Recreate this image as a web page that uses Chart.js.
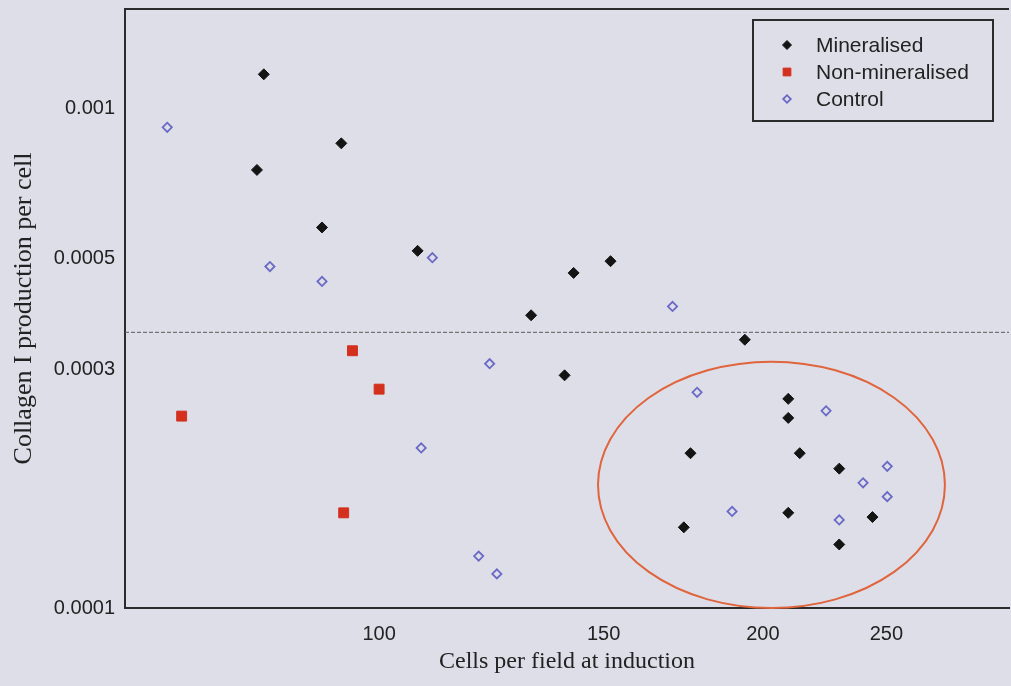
<!DOCTYPE html>
<html>
<head>
<meta charset="utf-8">
<script src="https://cdn.jsdelivr.net/npm/chart.js@4"></script>
<style>
    body { margin: 0; background: #dedee8; }
    #collagenChart { display: block; background: #dedee8; }
</style>
</head>
<body>
<canvas id="collagenChart" width="1011" height="686"></canvas>
<script>
// Mineralised
const mineralisedX = [81.2, 93.4, 80.2, 90.2, 107.2, 142.1, 151.9, 131.6, 139.8, 193.6,
    209.4, 209.4, 175.5, 213.8, 229.6, 209.4, 173.4, 243.8, 229.6];
const mineralisedY = [0.001168, 0.000850, 0.000752, 0.000577, 0.000518, 0.000468, 0.000494, 0.000385, 0.000292, 0.000344,
    0.000262, 0.000240, 0.000204, 0.000204, 0.000190, 0.000155, 0.000145, 0.000152, 0.000134];

// Non-mineralised
const nonMineralisedX = [70.0, 95.3, 100.0, 93.8];
const nonMineralisedY = [0.000242, 0.000327, 0.000274, 0.000155];

// Control
const controlX = [68.2, 82.1, 90.2, 110.1, 122.1, 169.9, 177.6, 107.9, 119.7, 123.7,
    224.2, 189.2, 239.7, 250.4, 250.4, 229.6];
const controlY = [0.000915, 0.000482, 0.000450, 0.000502, 0.000308, 0.000401, 0.000270, 0.000209, 0.000127, 0.000117,
    0.000248, 0.000156, 0.000178, 0.000192, 0.000167, 0.000150];

// threshold (dashed line) and circled group
const thresholdY = 0.000356;
const circleX = [148.5, 277.9];
const circleY = [0.0001, 0.000311];

const xTicks = [100, 150, 200, 250];
const yTicks = [0.0001, 0.0003, 0.0005, 0.001];
const xRange = [63.19, 312];
const yRange = [0.0001, 0.001578];

const toPoints = (xs, ys) => xs.map((x, i) => ({ x: x, y: ys[i] }));

// red ellipse round the high-density group
const ellipsePlugin = {
    id: 'groupEllipse',
    beforeDatasetsDraw(chart) {
        const { ctx, scales } = chart;
        const x0 = scales.x.getPixelForValue(circleX[0]);
        const x1 = scales.x.getPixelForValue(circleX[1]);
        const y0 = scales.y.getPixelForValue(circleY[0]);
        const y1 = scales.y.getPixelForValue(circleY[1]);
        ctx.save();
        ctx.beginPath();
        ctx.ellipse((x0 + x1) / 2, (y0 + y1) / 2, Math.abs(x1 - x0) / 2, Math.abs(y0 - y1) / 2, 0, 0, Math.PI * 2);
        ctx.strokeStyle = '#e0643c';
        ctx.lineWidth = 2;
        ctx.stroke();
        ctx.restore();
    }
};

// top frame line + boxed legend inside the plot
const framePlugin = {
    id: 'frameLegend',
    afterDraw(chart) {
        const { ctx, chartArea } = chart;
        ctx.save();
        ctx.strokeStyle = '#2b2b2b';
        ctx.lineWidth = 2;
        ctx.beginPath();
        ctx.moveTo(chartArea.left, chartArea.top);
        ctx.lineTo(chartArea.right, chartArea.top);
        ctx.stroke();

        const bx = chartArea.right - 256, by = chartArea.top + 11, bw = 240, bh = 101;
        ctx.strokeRect(bx, by, bw, bh);

        const rows = chart.data.datasets.filter(d => d.inLegend);
        rows.forEach((ds, i) => {
            const cy = by + 25 + i * 27;
            ctx.fillStyle = ds.backgroundColor;
            ctx.strokeStyle = ds.borderColor;
            ctx.lineWidth = ds.borderWidth;
            Chart.helpers.drawPoint(ctx, {
                pointStyle: ds.pointStyle,
                radius: ds.legendRadius,
                rotation: 0,
                borderWidth: ds.borderWidth
            }, bx + 34, cy);
            ctx.fillStyle = '#222';
            ctx.font = '21px "Liberation Sans", Arial, sans-serif';
            ctx.textBaseline = 'middle';
            ctx.textAlign = 'left';
            ctx.fillText(ds.label, bx + 63, cy + 1);
        });
        ctx.restore();
    }
};

const ctx = document.getElementById('collagenChart').getContext('2d');
const collagenChart = new Chart(ctx, {
    type: 'scatter',
    data: {
        datasets: [
            {
                label: 'Threshold',
                type: 'line',
                data: [{ x: xRange[0], y: thresholdY }, { x: xRange[1], y: thresholdY }],
                borderColor: '#5a5a5a',
                borderWidth: 1,
                borderDash: [4, 2],
                pointRadius: 0,
                fill: false
            },
            {
                label: 'Mineralised',
                inLegend: true,
                data: toPoints(mineralisedX, mineralisedY),
                pointStyle: 'rectRot',
                pointRadius: 5.5,
                legendRadius: 4.5,
                backgroundColor: '#141414',
                borderColor: '#141414',
                borderWidth: 1
            },
            {
                label: 'Non-mineralised',
                inLegend: true,
                data: toPoints(nonMineralisedX, nonMineralisedY),
                pointStyle: 'rect',
                pointRadius: 7,
                legendRadius: 5.5,
                backgroundColor: '#d4301e',
                borderColor: '#d4301e',
                borderWidth: 1
            },
            {
                label: 'Control',
                inLegend: true,
                data: toPoints(controlX, controlY),
                pointStyle: 'rectRot',
                pointRadius: 4.6,
                legendRadius: 3.8,
                backgroundColor: 'rgba(0,0,0,0)',
                borderColor: '#6a6ac6',
                borderWidth: 1.8
            }
        ]
    },
    options: {
        responsive: false,
        animation: false,
        layout: { autoPadding: false, padding: { top: 9, right: 2, left: 0, bottom: 0 } },
        plugins: {
            legend: { display: false },
            tooltip: { enabled: false }
        },
        scales: {
            x: {
                type: 'logarithmic',
                min: xRange[0],
                max: xRange[1],
                afterBuildTicks: scale => { scale.ticks = xTicks.map(v => ({ value: v })); },
                afterFit: scale => {
                    scale.height = 78;
                    scale.paddingLeft = 0;
                    scale.paddingRight = 0;
                },
                ticks: {
                    callback: value => String(value),
                    font: { family: 'Liberation Sans', size: 20 },
                    color: '#222',
                    padding: 14,
                    maxRotation: 0,
                    autoSkip: false
                },
                grid: { display: false, drawTicks: false },
                border: { color: '#2b2b2b', width: 2 },
                title: {
                    display: true,
                    text: 'Cells per field at induction',
                    font: { family: 'Liberation Serif', size: 24 },
                    color: '#222',
                    padding: { top: 0, bottom: 10 }
                }
            },
            y: {
                type: 'logarithmic',
                min: yRange[0],
                max: yRange[1],
                afterBuildTicks: scale => { scale.ticks = yTicks.map(v => ({ value: v })); },
                afterFit: scale => {
                    scale.width = 125;
                    scale.paddingTop = 0;
                    scale.paddingBottom = 0;
                },
                ticks: {
                    callback: value => String(value),
                    font: { family: 'Liberation Sans', size: 20 },
                    color: '#222',
                    padding: 10,
                    autoSkip: false
                },
                grid: { display: false, drawTicks: false },
                border: { color: '#2b2b2b', width: 2 },
                title: {
                    display: true,
                    text: 'Collagen I production per cell',
                    font: { family: 'Liberation Serif', size: 26 },
                    color: '#222',
                    padding: { top: 9, bottom: 0 }
                }
            }
        }
    },
    plugins: [ellipsePlugin, framePlugin]
});
</script>
</body>
</html>
